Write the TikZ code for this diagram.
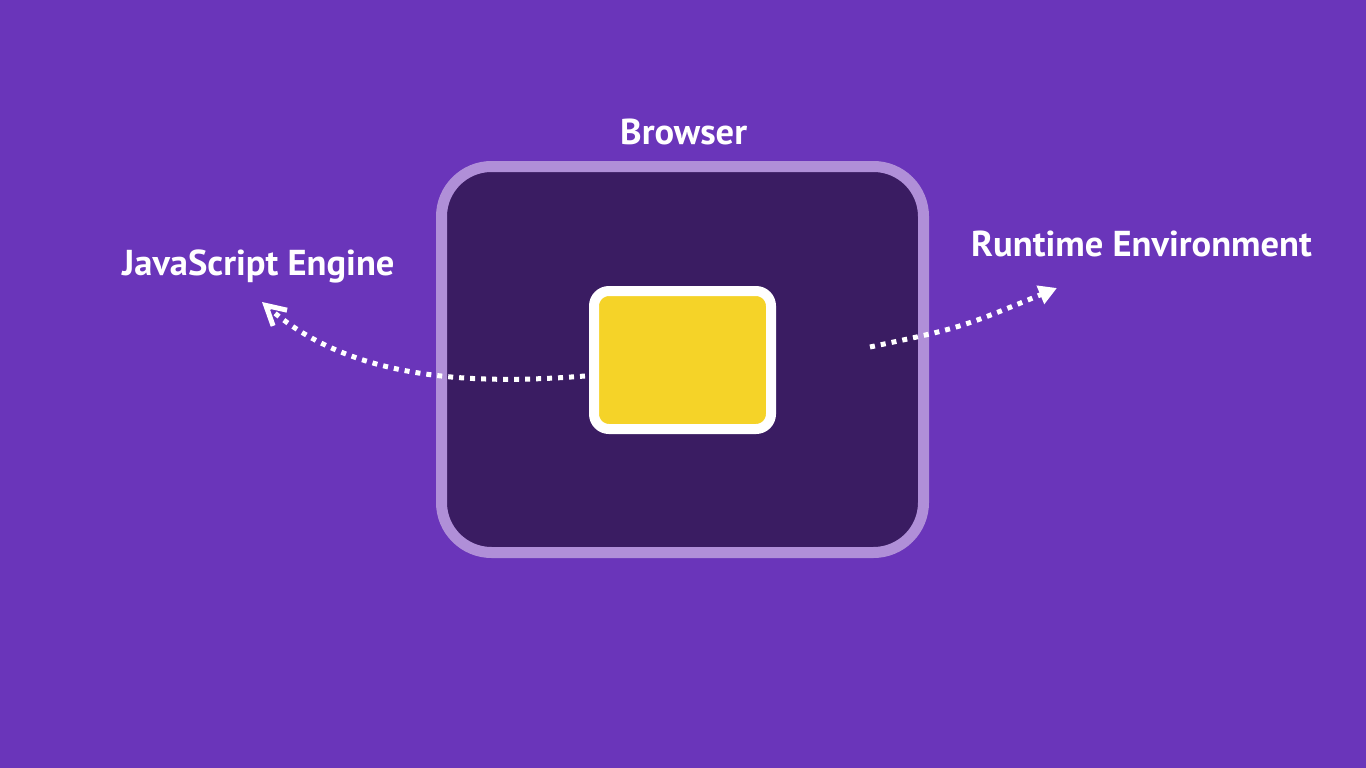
\documentclass[tikz,border=0pt]{standalone}
\usepackage{fontspec}
\setmainfont{PT Sans}
\usetikzlibrary{arrows.meta}
\definecolor{bgpurple}{RGB}{106,53,186}
\definecolor{darkpurple}{RGB}{58,28,98}
\definecolor{lightpurple}{RGB}{176,143,216}
\definecolor{sunyellow}{RGB}{245,211,40}
\tikzset{
  label text/.style={text=white, font=\fontsize{36}{40}\selectfont\bfseries, inner sep=0pt, anchor=base west, xscale=1.015},
  dotted link/.style={draw=white, line width=5pt, dash pattern=on 5pt off 6pt},
}
\begin{document}
\begin{tikzpicture}[x=1pt,y=-1pt]
\fill[bgpurple] (0,0) rectangle (1366,768);
\useasboundingbox (0,0) rectangle (1366,768);
% browser box
\draw[lightpurple, line width=11pt, fill=darkpurple, rounded corners=50pt] (441.5,166.5) rectangle (923.5,552.5);
% engine box
\node[draw=white, line width=10pt, fill=sunyellow, rounded corners=15pt, minimum width=177pt, minimum height=138pt, inner sep=0pt] (engine) at (682.5,360) {};
% labels
\node[label text] (browser) at (620,144) {Browser};
\node[label text] (jse) at (122,275) {JavaScript Engine};
\node[label text] (rte) at (971,256) {Runtime Environment};
% connectors
\coordinate (leftStart) at (585,376);
\coordinate (leftTip) at (262,302);
\coordinate (rightStart) at (870,347);
\coordinate (rightTip) at (1057,288);
\draw[dotted link, -{Straight Barb[length=19pt,width=21pt,line width=5pt]}] (leftStart) .. controls (470,385) and (350,380) .. (leftTip);
\draw[dotted link, -{Triangle[length=18pt,width=19pt]}] (rightStart) .. controls (960,328) .. (rightTip);
\end{tikzpicture}
\end{document}
